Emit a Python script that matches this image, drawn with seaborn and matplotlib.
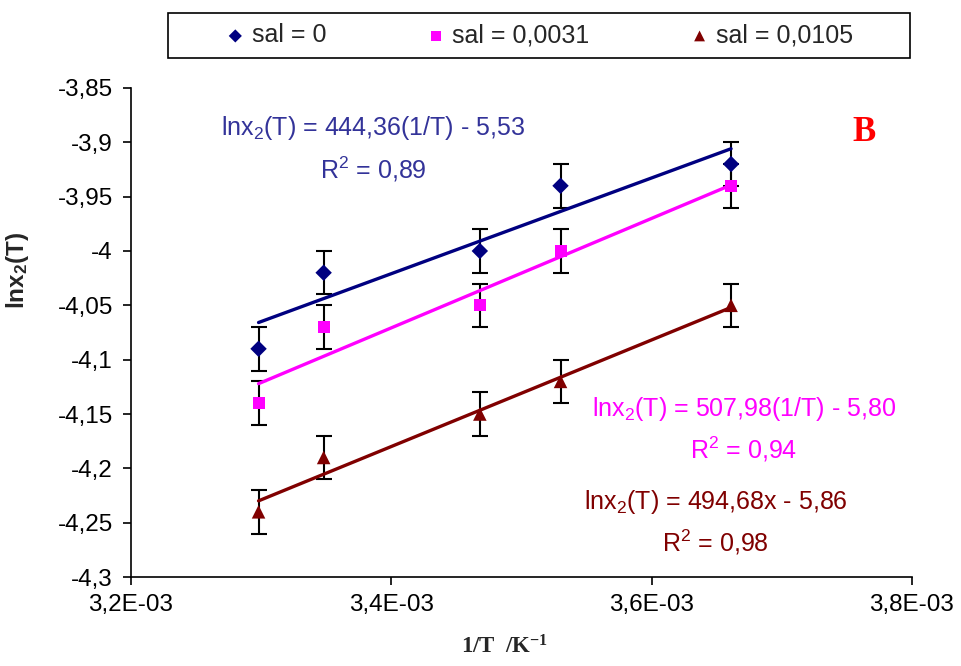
import numpy as np
import pandas as pd
import matplotlib
matplotlib.use("Agg")
import matplotlib.pyplot as plt
import seaborn as sns
from matplotlib.patches import Rectangle
from matplotlib.ticker import FuncFormatter, MultipleLocator

# ======================= DATA ======================
inv_T = [3.298e-3, 3.348e-3, 3.468e-3, 3.530e-3, 3.661e-3]
lnx_sal0 = [-4.09, -4.02, -4.00, -3.94, -3.92]
lnx_sal31 = [-4.14, -4.07, -4.05, -4.00, -3.94]
lnx_sal105 = [-4.24, -4.19, -4.15, -4.12, -4.05]
err = 0.02

labels = ["sal = 0", "sal = 0,0031", "sal = 0,0105"]
colors = ["#000080", "#FF00FF", "#800000"]
markers = ["D", "s", "^"]
sizes = [70, 75, 95]

eq_texts = ["lnx$_2$(T) = 444,36(1/T) - 5,53\nR$^2$ = 0,89",
            "lnx$_2$(T) = 507,98(1/T) - 5,80\nR$^2$ = 0,94",
            "lnx$_2$(T) = 494,68x - 5,86\nR$^2$ = 0,98"]
eq_colors = ["#333399", "#FF00FF", "#800000"]
eq_pos = [(3.386e-3, -3.906), (3.671e-3, -4.164), (3.649e-3, -4.25)]

series = [lnx_sal0, lnx_sal31, lnx_sal105]

sns.set_style("ticks")
plt.rcParams["font.family"] = ["Liberation Sans", "DejaVu Sans"]
plt.rcParams["mathtext.default"] = "regular"

fig = plt.figure(figsize=(9.61, 6.66), dpi=100)
ax = fig.add_axes([0.1363, 0.1336, 0.8127, 0.7343])

# error bars first, then trend lines, then markers on top
for y in series:
    ax.errorbar(inv_T, y, yerr=err, fmt="none", ecolor="black",
                elinewidth=1.5, capsize=5.5, capthick=1.5, zorder=2)

for y, c in zip(series, colors):
    df = pd.DataFrame({"x": inv_T, "y": y})
    sns.regplot(data=df, x="x", y="y", ax=ax, scatter=False, ci=None,
                color=c, line_kws={"lw": 2.4, "zorder": 3})

for y, c, m, s, lab in zip(series, colors, markers, sizes, labels):
    df = pd.DataFrame({"x": inv_T, "y": y})
    sns.scatterplot(data=df, x="x", y="y", ax=ax, marker=m, color=c, s=s,
                    edgecolor="none", label=lab, zorder=4)

for txt, c, (px, py) in zip(eq_texts, eq_colors, eq_pos):
    ax.text(px, py, txt, color=c, fontsize=18, ha="center", va="center",
            linespacing=1.5, multialignment="center")

ax.text(0.938, 0.908, "B", transform=ax.transAxes, color="red", fontsize=25,
        fontweight="bold", family="Liberation Serif", ha="center", va="center")

ax.set_xlim(3.2e-3, 3.8e-3)
ax.set_ylim(-4.3, -3.85)
ax.xaxis.set_major_locator(MultipleLocator(0.2e-3))
ax.yaxis.set_major_locator(MultipleLocator(0.05))
ax.xaxis.set_major_formatter(FuncFormatter(lambda v, p: "{:.1E}".format(v).replace(".", ",")))
ax.yaxis.set_major_formatter(FuncFormatter(lambda v, p: "{:g}".format(round(v, 2)).replace(".", ",")))
ax.tick_params(labelsize=17.5, length=6, width=1.2, colors="black")
ax.tick_params(axis="y", pad=7)
ax.tick_params(axis="x", pad=6)
for sp in ["left", "bottom"]:
    ax.spines[sp].set_color("black")
    ax.spines[sp].set_linewidth(1.2)
sns.despine(ax=ax)

ax.set_xlabel("1/T  /K$^{-1}$", fontsize=16.5, fontweight="bold", family="Liberation Serif")
ax.set_ylabel("lnx$_2$(T)", fontsize=17.5, fontweight="bold")
ax.xaxis.set_label_coords(0.479, -0.12)
ax.yaxis.set_label_coords(-0.128, 0.626)

handles, labs = ax.get_legend_handles_labels()
ax.get_legend().remove()
leg = fig.legend(handles, labs, loc="center", ncol=3,
                 bbox_to_anchor=(0.561, 0.9467), fontsize=18,
                 frameon=False,
                 handlelength=0.8, handletextpad=0.25, columnspacing=4.0,
                 markerscale=0.8)
# legend box is wider than its entries in the original
fig.patches.append(Rectangle((0.1748, 0.9129), 0.7721, 0.0676,
                             transform=fig.transFigure, fill=False,
                             edgecolor="black", linewidth=1.2))

fig.savefig("out.png", dpi=100)
